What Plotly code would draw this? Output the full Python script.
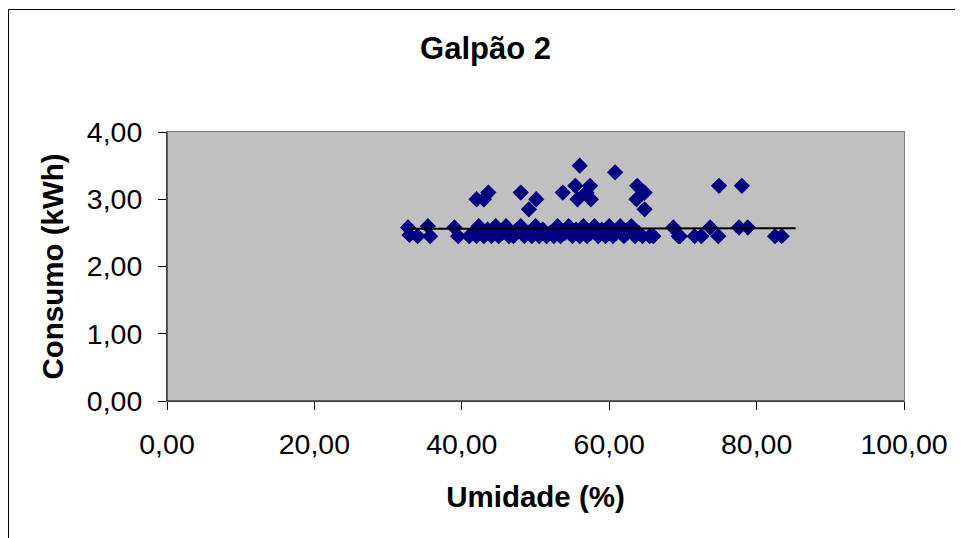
import plotly.graph_objects as go

# Data
umidade = [32.7, 32.9, 34.0, 35.4, 35.7, 39.0, 39.5,
           41.0, 41.5, 42.0, 42.3, 43.0, 43.5, 44.0, 44.6, 45.0, 45.5, 46.0, 46.4,
           47.0, 47.5, 48.0, 48.5, 49.0, 49.5, 50.0, 50.5, 51.0, 51.5, 52.0, 52.5,
           53.0, 53.4, 54.0, 54.5, 55.0, 55.5, 56.0, 56.5, 57.0, 57.5, 58.0, 58.5,
           59.0, 59.5, 60.0, 60.5, 61.0, 61.5, 62.0, 62.5, 63.0, 63.5, 64.0, 64.5,
           65.5, 66.0, 68.7, 69.4, 69.6, 71.6, 72.5, 73.7, 74.8, 77.6, 78.8, 82.5, 83.4,
           42.0, 43.0, 43.6, 48.0, 50.1, 49.1, 53.7, 55.4, 56.0, 55.7, 56.9, 57.4, 57.5,
           60.8, 63.8, 64.8, 63.7, 64.8, 74.9, 78.0]
consumo = [2.58, 2.47, 2.45, 2.60, 2.45, 2.58, 2.45,
           2.45, 2.50, 2.45, 2.60, 2.45, 2.55, 2.45, 2.60, 2.45, 2.50, 2.60, 2.45,
           2.45, 2.55, 2.60, 2.45, 2.50, 2.45, 2.60, 2.45, 2.55, 2.45, 2.50, 2.45,
           2.60, 2.45, 2.50, 2.60, 2.45, 2.55, 2.45, 2.60, 2.45, 2.50, 2.60, 2.45,
           2.55, 2.45, 2.60, 2.45, 2.50, 2.60, 2.45, 2.55, 2.60, 2.45, 2.50, 2.45,
           2.45, 2.45, 2.58, 2.45, 2.45, 2.45, 2.45, 2.58, 2.45, 2.58, 2.58, 2.45, 2.45,
           3.00, 3.00, 3.10, 3.10, 3.00, 2.85, 3.10, 3.20, 3.50, 3.00, 3.10, 3.20, 3.00,
           3.40, 3.20, 3.10, 3.00, 2.85, 3.20, 3.20]

trend_x = [33.0, 85.3]
trend_y = [2.56, 2.57]

x_ticks = [0, 20, 40, 60, 80, 100]
y_ticks = [0, 1, 2, 3, 4]

FONT = "Liberation Sans, Arial, sans-serif"

# The page body has an 8px margin; figure is sized so it fills the 963x538 window.
W, H = 955, 530

fig = go.Figure()
fig.add_trace(go.Scatter(
    x=umidade, y=consumo, mode="markers",
    marker=dict(symbol="diamond", size=12.5, color="#000080", line=dict(width=0)),
    showlegend=False, hoverinfo="x+y"))
fig.add_trace(go.Scatter(
    x=trend_x, y=trend_y, mode="lines",
    line=dict(color="black", width=2), showlegend=False))

fig.update_layout(
    width=W, height=H,
    margin=dict(l=159, r=59, t=124, b=137),
    paper_bgcolor="white", plot_bgcolor="#C0C0C0",
    separators=",.",
    font=dict(family=FONT, size=28.5, color="black"),
    title=dict(text="<b>Galpão 2</b>", x=0.5, xanchor="center",
               y=1 - 40 / H, yanchor="middle",
               font=dict(family=FONT, size=31, color="black")),
    xaxis=dict(range=[0, 100], tickvals=x_ticks, tickformat=".2f",
               ticks="outside", ticklen=8, tickcolor="black", tickwidth=1,
               ticklabelstandoff=10,
               showgrid=False, zeroline=False, showline=True, linecolor="#808080",
               linewidth=1, mirror=True,
               title=dict(text="<b>Umidade (%)</b>", standoff=27,
                          font=dict(family=FONT, size=29.5)),
               tickfont=dict(family=FONT, size=28.5)),
    yaxis=dict(range=[0, 4], tickvals=y_ticks, tickformat=".2f",
               ticks="outside", ticklen=8, tickcolor="black", tickwidth=1,
               ticklabelstandoff=10,
               showgrid=False, zeroline=False, showline=True, linecolor="#808080",
               linewidth=1, mirror=True,
               title=dict(text="<b>Consumo (kWh)</b>", standoff=14,
                          font=dict(family=FONT, size=29.5)),
               tickfont=dict(family=FONT, size=28.5)),
)

# Outer chart-area border
fig.add_shape(type="rect", xref="paper", yref="paper",
              x0=(0.5 - 159) / 737, x1=1.2, y0=-0.6, y1=(393 - 1.5) / 269,
              line=dict(color="black", width=1), fillcolor="rgba(0,0,0,0)", layer="below")
# black axis lines on left and bottom
fig.add_shape(type="line", xref="paper", yref="paper", x0=0, x1=0, y0=0, y1=1,
              line=dict(color="black", width=1))
fig.add_shape(type="line", xref="paper", yref="paper", x0=0, x1=1, y0=0, y1=0,
              line=dict(color="black", width=1))

fig.write_html("out.html")
